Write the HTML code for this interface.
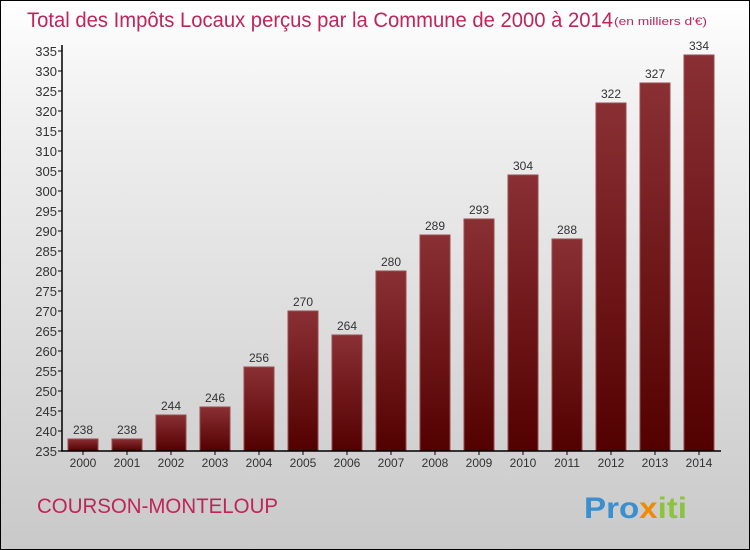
<!DOCTYPE html>
<html><head><meta charset="utf-8"><style>
body{margin:0;}
#c{width:750px;height:550px;position:relative;box-sizing:border-box;border:1px solid #000;background:linear-gradient(#ffffff,#f0f0f0 20%,#c9c9c9);overflow:hidden;font-family:"Liberation Sans",sans-serif;}
</style></head><body>
<div id="c">
<svg id="s" width="750" height="550" style="position:absolute;left:0;top:0">
<defs><linearGradient id="g" x1="0" y1="0" x2="0" y2="1"><stop offset="0" stop-color="#8a3034"/><stop offset="1" stop-color="#530000"/></linearGradient></defs>
<text x="26" y="26" font-size="21" fill="#c0245a" textLength="586" lengthAdjust="spacingAndGlyphs">Total des Impôts Locaux perçus par la Commune de 2000 à 2014</text>
<text x="613" y="24" font-size="11" fill="#c0245a" textLength="93" lengthAdjust="spacingAndGlyphs">(en milliers d'€)</text>
<text x="36" y="512" font-size="21" fill="#c0245a" textLength="241" lengthAdjust="spacingAndGlyphs">COURSON-MONTELOUP</text>
<text x="583" y="517" font-size="30" font-weight="bold" fill="#3a8fd0" textLength="103" lengthAdjust="spacingAndGlyphs">Pro<tspan fill="#f08a00">x</tspan><tspan fill="#8cc43c">iti</tspan></text>
<g id="bars"></g><g id="axes"></g>
</svg>
</div>
<script>
const years=["2000","2001","2002","2003","2004","2005","2006","2007","2008","2009","2010","2011","2012","2013","2014"];
const values=[238,238,244,246,256,270,264,280,289,293,304,288,322,327,334];
const yTicks=[235,240,245,250,255,260,265,270,275,280,285,290,295,300,305,310,315,320,325,330,335];
const NS="http://www.w3.org/2000/svg";
const x0=60,step=44,bw=30;
const y=v=>450-(v-235)*4;
const xc=i=>x0+22+step*i;
function mk(t,a){const e=document.createElementNS(NS,t);for(const k in a)e.setAttribute(k,a[k]);return e;}
const bars=document.getElementById('bars'),axes=document.getElementById('axes');
values.forEach((v,i)=>{
 const r=mk('rect',{x:xc(i)-bw/2,y:y(v),width:bw,height:450-y(v),fill:'url(#g)',stroke:'#9a4a4e','stroke-width':1});
 
 
 bars.appendChild(r);
 const t=mk('text',{x:xc(i),y:y(v)-5,'text-anchor':'middle','font-size':12,fill:'#333'});
 t.textContent=v;
 
 
 bars.appendChild(t);
 const xl=mk('text',{x:xc(i),y:466,'text-anchor':'middle','font-size':12,fill:'#333'});
 xl.textContent=years[i];
 
 
 axes.appendChild(xl);
 const tk=mk('line',{x1:xc(i),x2:xc(i),y1:450,y2:454,stroke:'#000'});
 
 
 axes.appendChild(tk);
});
yTicks.forEach(v=>{
 const l=mk('line',{x1:57,x2:61,y1:y(v),y2:y(v),stroke:'#000'});
 
 
 axes.appendChild(l);
 const t=mk('text',{x:56,y:y(v)+5,'text-anchor':'end','font-size':13,fill:'#333'});
 t.textContent=v;
 
 
 axes.appendChild(t);
});
const ya=mk('line',{x1:61,x2:61,y1:44,y2:450,stroke:'#000','stroke-width':1.5});


axes.appendChild(ya);
const xa=mk('line',{x1:60,x2:720,y1:450,y2:450,stroke:'#000','stroke-width':1.5});


axes.appendChild(xa);
</script>
</body></html>
